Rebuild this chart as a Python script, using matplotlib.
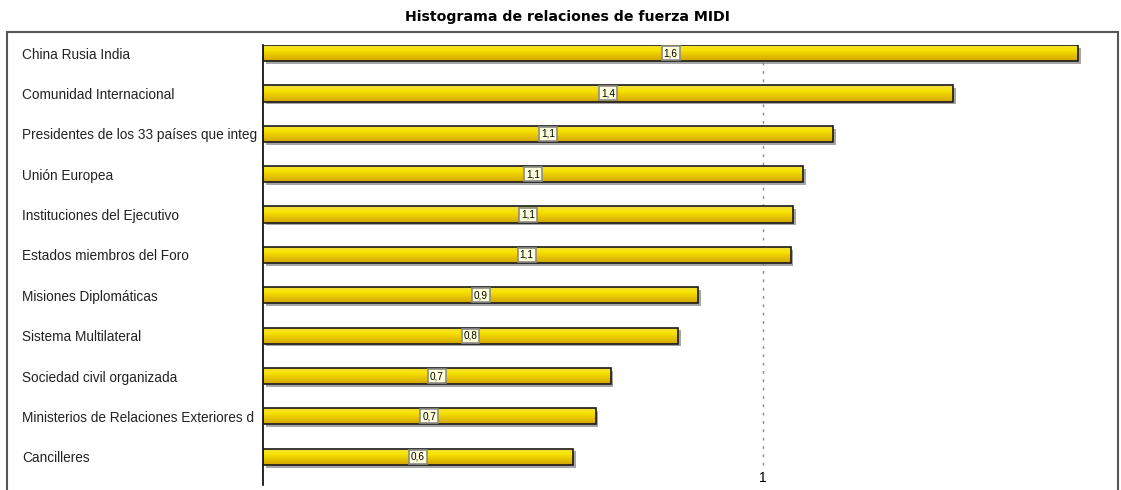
import numpy as np
import matplotlib
matplotlib.use("Agg")
import matplotlib.pyplot as plt
import matplotlib.patheffects as pe
from matplotlib.colors import LinearSegmentedColormap
from matplotlib.patches import Rectangle
from matplotlib.transforms import blended_transform_factory

# data
actors = ["China Rusia India", "Comunidad Internacional",
          "Presidentes de los 33 países que integ", "Unión Europea",
          "Instituciones del Ejecutivo", "Estados miembros del Foro",
          "Misiones Diplomáticas", "Sistema Multilateral",
          "Sociedad civil organizada", "Ministerios de Relaciones Exteriores d",
          "Cancilleres"]
fuerza = [1.63, 1.38, 1.14, 1.08, 1.06, 1.055, 0.87, 0.83, 0.695, 0.665, 0.62]
xticks = [1]

W, H = 1121, 490
fig = plt.figure(figsize=(W / 100, H / 100), dpi=100)
ax = fig.add_axes([263 / W, 1 - 485 / H, (1118 - 263) / W, (485 - 45) / H])

y = np.arange(len(actors))
shadow = [pe.SimplePatchShadow(offset=(2, -2), shadow_rgbFace="#808080", alpha=0.7), pe.Normal()]
bars = ax.barh(y, fuerza, height=0.4, color="#F2DC00", edgecolor="none", zorder=2,
               path_effects=shadow)

cmap = LinearSegmentedColormap.from_list("oro", ["#EEDC50", "#F8E400", "#E6C400", "#D2A400"])
grad = np.linspace(0, 1, 64).reshape(-1, 1)
for b in bars:
    x0, y0, w, h = b.get_x(), b.get_y(), b.get_width(), b.get_height()
    im = ax.imshow(grad, cmap=cmap, aspect="auto", extent=(x0, x0 + w, y0 + h, y0),
                   origin="upper", zorder=2.5, interpolation="bilinear")
    im.set_clip_path(b)
ax.barh(y, fuerza, height=0.4, facecolor="none", edgecolor="#1a1a1a", linewidth=1.2, zorder=3)

for yi, v in zip(y, fuerza):
    ax.text(v / 2, yi, f"{v:.1f}".replace(".", ","), ha="center", va="center",
            fontsize=7.2, family="Liberation Sans", zorder=4,
            bbox=dict(boxstyle="square,pad=0.2", facecolor="#FFFFDC", edgecolor="#8c8c8c", linewidth=1.2))

ax.set_xlim(0, 1.71)
ax.set_ylim(10.7, -0.2)
for xt in xticks:
    ax.axvline(xt, ymin=0.045, ymax=1, color="#888888", linestyle=(0, (2, 4)), linewidth=1, zorder=1)
    ax.text(xt, 0.0, str(xt), transform=ax.get_xaxis_transform(), ha="center", va="bottom",
            fontsize=10, family="Liberation Sans")
ax.set_xticks([])
ax.set_yticks([])
for s in ["top", "right", "bottom"]:
    ax.spines[s].set_visible(False)
ax.spines["left"].set_color("black")
ax.spines["left"].set_linewidth(1.2)

tr = blended_transform_factory(fig.transFigure, ax.transData)
for yi, name in zip(y, actors):
    fig.text(22 / W, yi, name, transform=tr, ha="left", va="center_baseline",
             fontsize=9.8, family="Liberation Sans", color="#222222")

fig.patches.append(Rectangle((7 / W, -0.05), (1118 - 7) / W, 1.05 - 32 / H,
                             transform=fig.transFigure, facecolor="none",
                             edgecolor="#555555", linewidth=1.5))
fig.text(567 / W, 1 - 17 / H, "Histograma de relaciones de fuerza MIDI", ha="center", va="center",
         fontsize=10.2, fontweight="bold", family="DejaVu Sans")

fig.savefig("out.png", dpi=100)
